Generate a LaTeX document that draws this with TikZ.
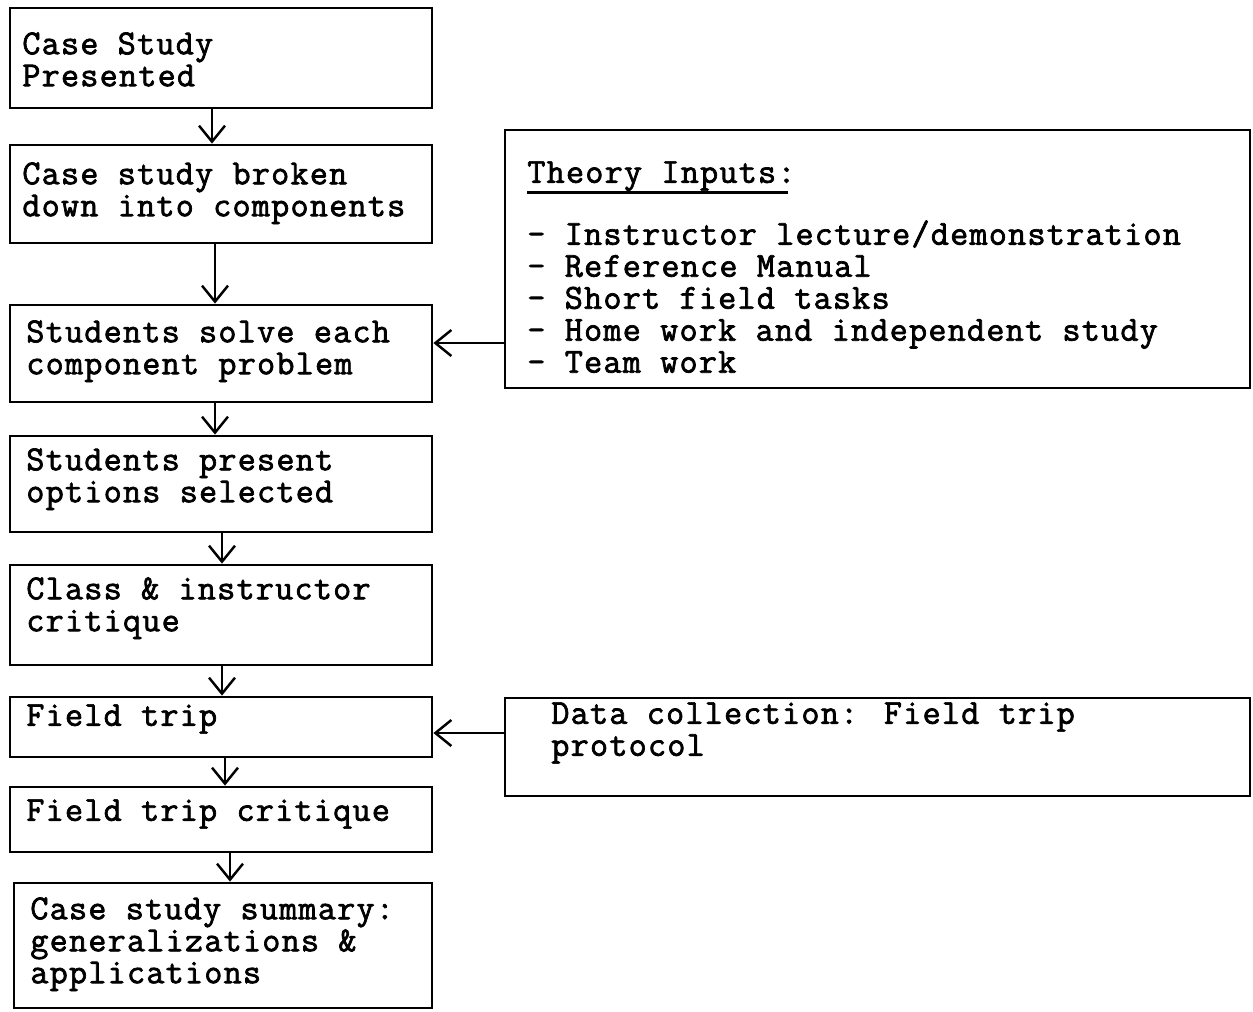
\documentclass[tikz,border=0pt]{standalone}
\usepackage{fontspec}
\newfontfamily\tw{lmmono12-regular}[Extension=.otf,FakeBold=2,LetterSpace=3.5]
\usetikzlibrary{arrows.meta}
\tikzset{
  box/.style={draw, line width=1.6pt, inner sep=0pt, minimum width=8.44cm},
  bigbox/.style={draw, line width=1.6pt, inner sep=0pt, minimum width=14.90cm},
  txt/.style={anchor=north west, inner sep=0pt, align=left, font=\fontsize{20}{18.2}\selectfont\tw},
  arr/.style={line width=1.4pt, -{Straight Barb[length=0.32cm,width=0.52cm,line width=1.4pt]}}
}
\begin{document}
\begin{tikzpicture}
\useasboundingbox (0,0) rectangle (25.06,-20.22);
% flow boxes
\node[box, minimum height=2.00cm] (b1) at (4.42,-1.16) {};
\node[box, minimum height=1.96cm] (b2) at (4.42,-3.88) {};
\node[box, minimum height=1.94cm] (b3) at (4.42,-7.07) {};
\node[box, minimum height=1.92cm] (b4) at (4.42,-9.68) {};
\node[box, minimum height=2.00cm] (b5) at (4.42,-12.30) {};
\node[box, minimum height=1.20cm] (b6) at (4.42,-14.54) {};
\node[box, minimum height=1.30cm] (b7) at (4.42,-16.39) {};
\node[box, minimum height=2.50cm, minimum width=8.36cm] (b8) at (4.46,-18.91) {};
\node[bigbox, minimum height=5.16cm] (theory) at (17.55,-5.18) {};
\node[bigbox, minimum height=1.96cm] (data) at (17.55,-14.94) {};
% texts
\node[txt] (t1) at (0.44,-0.64) {Case Study\\Presented};
\node[txt] (t2) at (0.44,-3.24) {Case study broken\\down into components};
\node[txt] (t3) at (0.52,-6.40) {Students solve each\\component problem};
\node[txt] (t4) at (0.52,-8.96) {Students present\\options selected};
\node[txt] (t5) at (0.52,-11.54) {Class \& instructor\\critique};
\node[txt] (t6) at (0.52,-14.08) {Field trip};
\node[txt] (t7) at (0.52,-15.98) {Field trip critique};
\node[txt] (t8) at (0.60,-17.94) {Case study summary:\\generalizations \&\\applications};
\node[txt] (tt) at (10.54,-3.22) {Theory Inputs:};
\draw[line width=1.5pt] ([yshift=-0.03cm]tt.south west) -- ([yshift=-0.03cm,xshift=-0.15cm]tt.south east);
\node[txt] (tl) at (10.54,-4.40) {- Instructor lecture/demonstration\\- Reference Manual\\- Short field tasks\\- Home work and independent study\\- Team work};
\node[txt] (td) at (11.02,-14.04) {Data collection: Field trip\\protocol};
% arrow positions
\coordinate (x12) at (4.24,0);
\coordinate (x23) at (4.30,0);
\coordinate (x34) at (4.30,0);
\coordinate (x45) at (4.44,0);
\coordinate (x56) at (4.44,0);
\coordinate (x67) at (4.50,0);
\coordinate (x78) at (4.60,0);
\coordinate (y3) at (0,-6.86);
\coordinate (y6) at (0,-14.66);
\draw[arr] (b1.south -| x12) -- (b2.north -| x12);
\draw[arr] (b2.south -| x23) -- (b3.north -| x23);
\draw[arr] (b3.south -| x34) -- (b4.north -| x34);
\draw[arr] (b4.south -| x45) -- (b5.north -| x45);
\draw[arr] (b5.south -| x56) -- (b6.north -| x56);
\draw[arr] (b6.south -| x67) -- (b7.north -| x67);
\draw[arr] (b7.south -| x78) -- (b8.north -| x78);
\draw[arr] (theory.west |- y3) -- (b3.east |- y3);
\draw[arr] (data.west |- y6) -- (b6.east |- y6);
\end{tikzpicture}
\end{document}
